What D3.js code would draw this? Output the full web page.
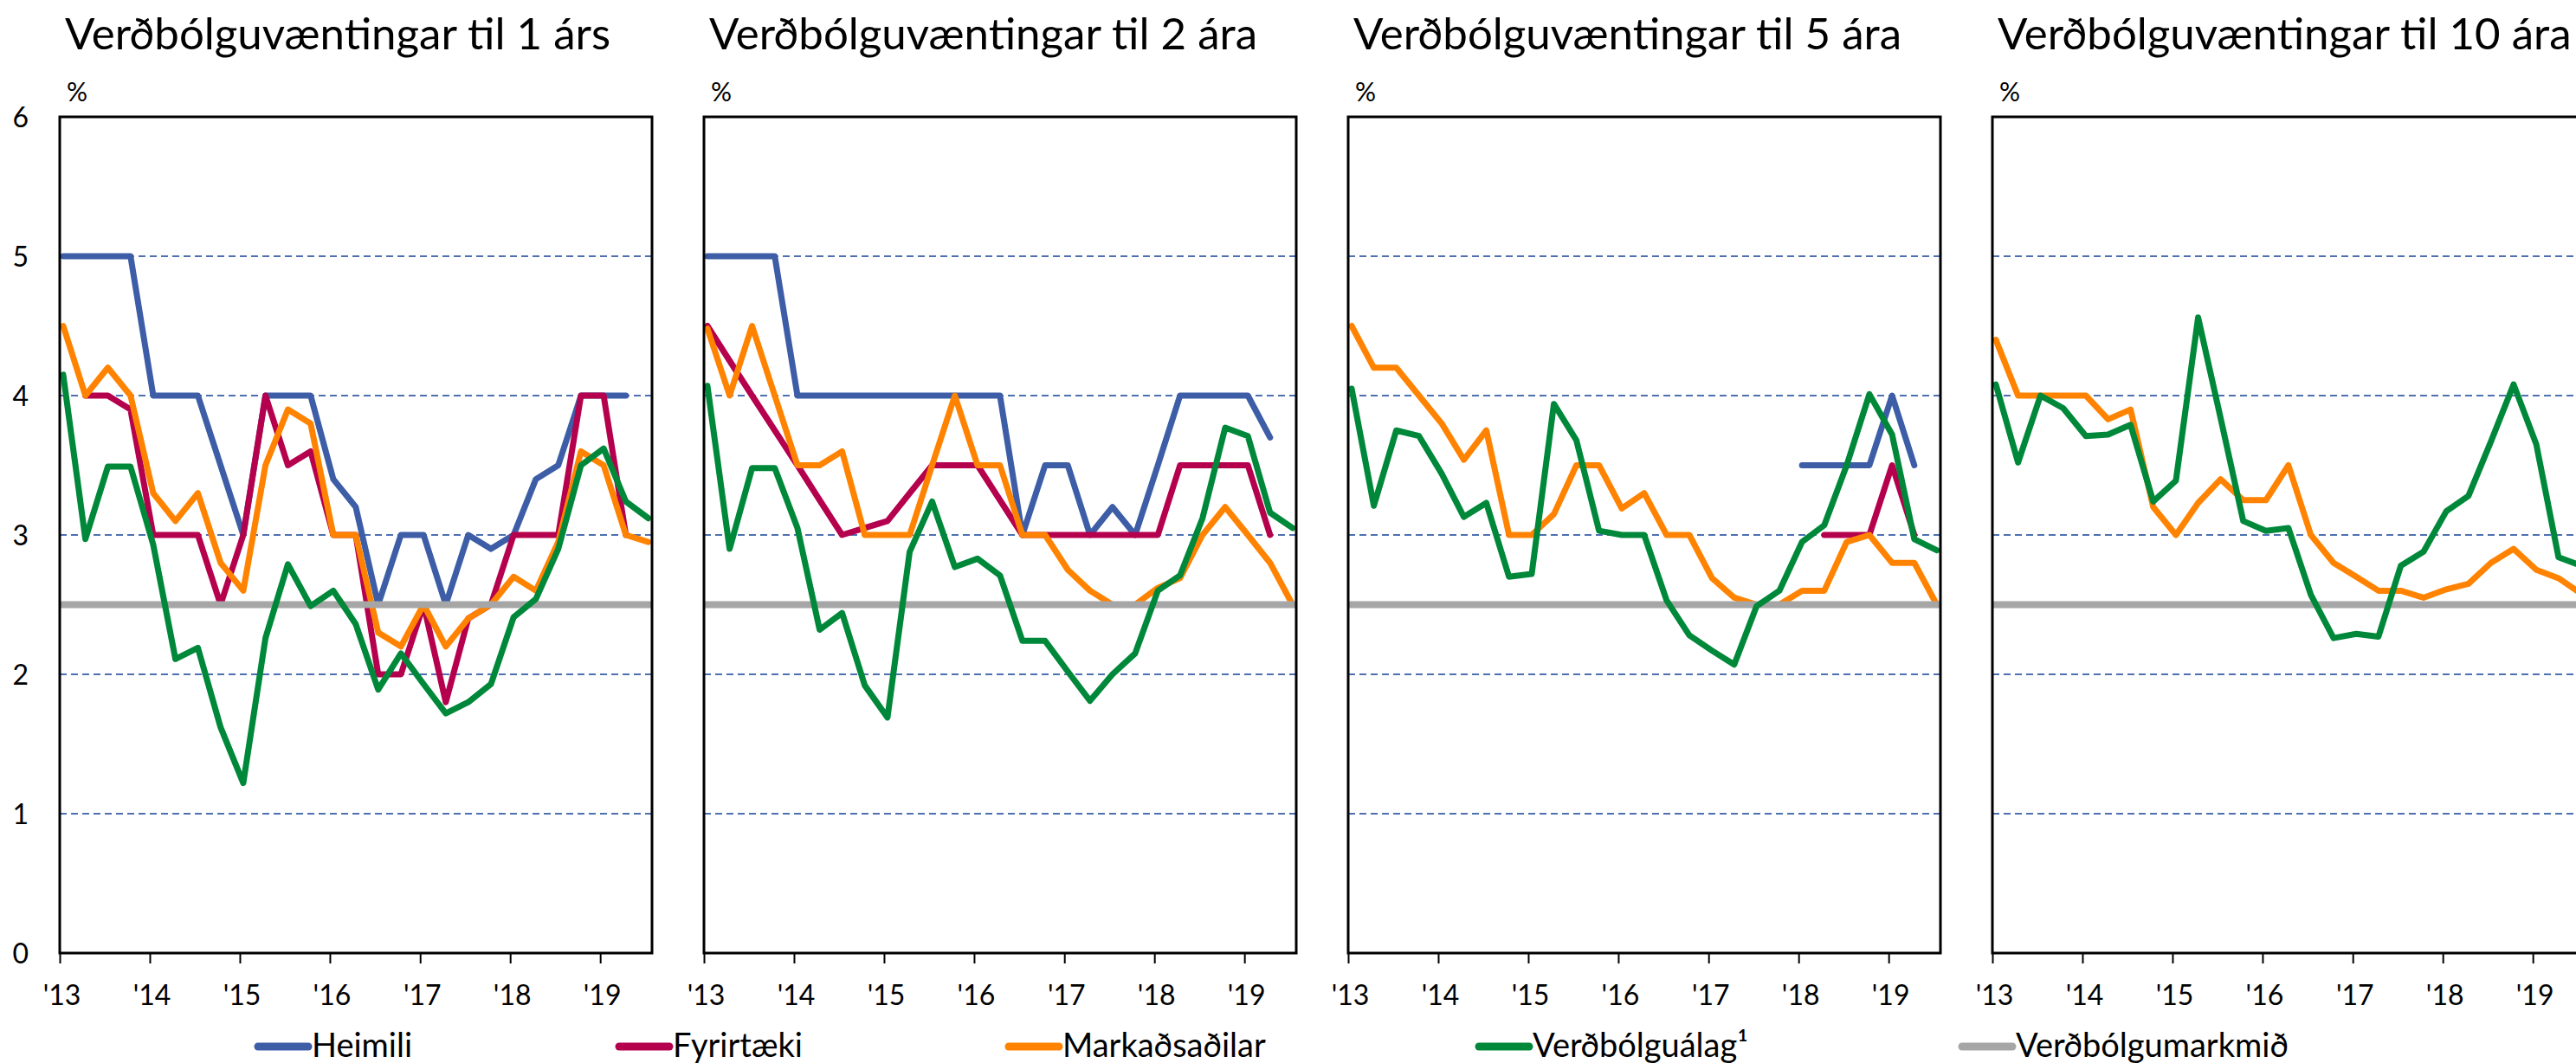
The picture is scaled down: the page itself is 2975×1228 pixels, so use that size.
<!DOCTYPE html>
<html>
<head>
<meta charset="utf-8">
<script src="https://cdn.jsdelivr.net/npm/d3@7"></script>
<style>
body { margin: 0; background: #fff; }
text { font-family: Lato, "Noto Sans", sans-serif; fill: #000; }
</style>
</head>
<body>
<svg width="2975" height="1228"></svg>
<script>
// ársfjórðungar (gildi dagsett um miðjan fyrsta mánuð)
var quarters = ["2013Q1","2013Q2","2013Q3","2013Q4","2014Q1","2014Q2","2014Q3","2014Q4",
    "2015Q1","2015Q2","2015Q3","2015Q4","2016Q1","2016Q2","2016Q3","2016Q4",
    "2017Q1","2017Q2","2017Q3","2017Q4","2018Q1","2018Q2","2018Q3","2018Q4",
    "2019Q1","2019Q2","2019Q3"];
var years = [2013, 2014, 2015, 2016, 2017, 2018, 2019];
var yearLabels = ["'13", "'14", "'15", "'16", "'17", "'18", "'19"];
var yTicks = [0, 1, 2, 3, 4, 5, 6];
var gridValues = [1, 2, 3, 4, 5];

var titles = ["Verðbólguvæntingar til 1 árs", "Verðbólguvæntingar til 2 ára",
    "Verðbólguvæntingar til 5 ára", "Verðbólguvæntingar til 10 ára"];
var legendLabels = ["Heimili", "Fyrirtæki", "Markaðsaðilar", "Verðbólguálag¹", "Verðbólgumarkmið"];

// 1 árs
var heimili1 = [5,5,5,5,4,4,4,3.5,3,4,4,4,3.4,3.2,2.5,3,3,2.5,3,2.9,3,3.4,3.5,4,4,4,null];
var fyrirtaeki1 = [null,4,4,3.9,3,3,3,2.5,3,4,3.5,3.6,3,3,2,2,2.5,1.8,2.4,2.5,3,3,3,4,4,3,null];
var markad1 = [4.5,4,4.2,4,3.3,3.1,3.3,2.8,2.6,3.5,3.9,3.8,3,3,2.3,2.2,2.5,2.2,2.4,2.5,2.7,2.6,2.95,3.6,3.5,3,2.95];
var alag1 = [4.15,2.97,3.49,3.49,2.93,2.11,2.19,1.62,1.22,2.26,2.79,2.49,2.6,2.36,1.89,2.15,1.93,1.72,1.8,1.93,2.41,2.54,2.9,3.5,3.62,3.24,3.12];
// 2 ára
var heimili2 = [5,5,5,5,4,4,4,4,4,4,4,4,4,4,3,3.5,3.5,3,3.2,3,3.5,4,4,4,4,3.7,null];
var fyrirtaeki2 = [4.5,4.25,4,3.75,3.5,3.25,3,3.05,3.1,3.3,3.5,3.5,3.5,3.25,3,3,3,3,3,3,3,3.5,3.5,3.5,3.5,3,null];
var markad2 = [4.48,4,4.5,4,3.5,3.5,3.6,3,3,3,3.5,4,3.5,3.5,3,3,2.75,2.6,2.5,2.5,2.62,2.69,3,3.2,3,2.8,2.5];
var alag2 = [4.07,2.9,3.48,3.48,3.05,2.32,2.44,1.92,1.69,2.88,3.24,2.77,2.83,2.71,2.24,2.24,2.02,1.81,2,2.15,2.6,2.71,3.12,3.77,3.71,3.16,3.05];
// 5 ára
var heimili3 = [null,null,null,null,null,null,null,null,null,null,null,null,null,null,null,null,null,null,null,null,3.5,3.5,3.5,3.5,4,3.5,null];
var fyrirtaeki3 = [null,null,null,null,null,null,null,null,null,null,null,null,null,null,null,null,null,null,null,null,null,3,3,3,3.5,3,null];
var markad3 = [4.5,4.2,4.2,4,3.8,3.54,3.75,3,3,3.15,3.5,3.5,3.19,3.3,3,3,2.69,2.55,2.5,2.5,2.6,2.6,2.95,3,2.8,2.8,2.5];
var alag3 = [4.05,3.21,3.75,3.71,3.44,3.13,3.23,2.7,2.72,3.94,3.68,3.03,3,3,2.53,2.28,2.17,2.07,2.49,2.6,2.95,3.07,3.5,4.01,3.72,2.97,2.89];
// 10 ára
var markad4 = [4.4,4,4,4,4,3.83,3.9,3.2,3,3.23,3.4,3.25,3.25,3.5,3,2.8,2.7,2.6,2.6,2.55,2.61,2.65,2.8,2.9,2.75,2.69,2.58];
var alag4 = [4.08,3.52,4,3.91,3.71,3.72,3.79,3.24,3.39,4.56,3.84,3.1,3.03,3.05,2.57,2.26,2.29,2.27,2.78,2.88,3.17,3.28,3.67,4.08,3.65,2.84,2.78];

var markmid = 2.5;

var colors = { heimili: "#3d5da7", fyrirtaeki: "#b5004d", markad: "#ff8300", markmid: "#a6a6a6", alag: "#00883a" };

var panels = [
    { title: titles[0], heimili: heimili1, fyrirtaeki: fyrirtaeki1, markad: markad1, alag: alag1 },
    { title: titles[1], heimili: heimili2, fyrirtaeki: fyrirtaeki2, markad: markad2, alag: alag2 },
    { title: titles[2], heimili: heimili3, fyrirtaeki: fyrirtaeki3, markad: markad3, alag: alag3 },
    { title: titles[3], heimili: null, fyrirtaeki: null, markad: markad4, alag: alag4 }
];

var dates = quarters.map(function (q) {
    return new Date(+q.slice(0, 4), (+q.slice(5) - 1) * 3, 15);
});

var svg = d3.select("svg");
var plotW = 684, plotH = 966, plotTop = 135, plotLeft = 69, panelStep = 744;

var x = d3.scaleTime()
    .domain([new Date(2013, 0, 1), new Date(2019, 6, 30)])
    .range([0, plotW]);
var y = d3.scaleLinear()
    .domain([0, 6])
    .range([plotH, 0]);

var line = d3.line()
    .defined(function (d) { return d != null; })
    .x(function (d, i) { return x(dates[i]); })
    .y(function (d) { return y(d); });

panels.forEach(function (p, k) {
    var g = svg.append("g").attr("transform", "translate(" + (plotLeft + panelStep * k) + "," + plotTop + ")");

    // fyrirsögn og %
    g.append("text")
        .attr("x", 6)
        .attr("y", 57 - plotTop)
        .attr("font-size", 51)
        .text(p.title);
    g.append("text")
        .attr("x", 8)
        .attr("y", 117 - plotTop)
        .attr("font-size", 30)
        .text("%");

    // láréttar hjálparlínur
    g.selectAll(".grid")
        .data(gridValues)
        .enter().append("line")
        .attr("class", "grid")
        .attr("x1", 0).attr("x2", plotW)
        .attr("y1", function (d) { return y(d); })
        .attr("y2", function (d) { return y(d); })
        .attr("stroke", "#4e70b0")
        .attr("stroke-width", 2)
        .attr("stroke-dasharray", "8,5");

    // x ás
    var xAxis = d3.axisBottom(x)
        .tickValues(years.map(function (yr) { return new Date(yr, 0, 1); }))
        .tickSize(12)
        .tickFormat(function (d, i) { return yearLabels[i]; });
    var ax = g.append("g")
        .attr("transform", "translate(0," + plotH + ")")
        .call(xAxis);
    ax.select(".domain").remove();
    ax.selectAll(".tick line").attr("stroke", "#000").attr("stroke-width", 2);
    ax.selectAll(".tick text")
        .attr("y", 60)
        .attr("dy", 0)
        .attr("dx", 2)
        .attr("font-size", 32)
        .attr("font-family", null);

    if (k === 0) {
        var yAxis = d3.axisLeft(y)
            .tickValues(yTicks)
            .tickFormat(d3.format("d"))
            .tickSize(0)
            .tickPadding(36);
        var ay = g.append("g").call(yAxis);
        ay.select(".domain").remove();
        ay.selectAll(".tick text")
            .attr("font-size", 32)
            .attr("font-family", null)
            .attr("dy", "0.36em");
    }

    // raðir
    var order = ["heimili", "fyrirtaeki", "markad", "markmid", "alag"];
    order.forEach(function (key) {
        if (key === "markmid") {
            g.append("line")
                .attr("x1", 0).attr("x2", plotW)
                .attr("y1", y(markmid)).attr("y2", y(markmid))
                .attr("stroke", colors.markmid)
                .attr("stroke-width", 8);
            return;
        }
        if (!p[key]) return;
        g.append("path")
            .datum(p[key])
            .attr("d", line)
            .attr("fill", "none")
            .attr("stroke", colors[key])
            .attr("stroke-width", 7)
            .attr("stroke-linejoin", "round")
            .attr("stroke-linecap", "round");
    });

    // rammi
    g.append("rect")
        .attr("width", plotW)
        .attr("height", plotH)
        .attr("fill", "none")
        .attr("stroke", "#000")
        .attr("stroke-width", 3);
});

// skýringar
var legendX = [294, 711, 1161, 1704, 2262];
var legendKeys = ["heimili", "fyrirtaeki", "markad", "alag", "markmid"];
var leg = svg.append("g");
var item = leg.selectAll(".item")
    .data(legendLabels)
    .enter().append("g")
    .attr("class", "item")
    .attr("transform", function (d, i) { return "translate(" + legendX[i] + ",1209)"; });
item.append("line")
    .attr("x1", 4).attr("x2", 62)
    .attr("stroke", function (d, i) { return colors[legendKeys[i]]; })
    .attr("stroke-width", 9)
    .attr("stroke-linecap", "round");
item.append("text")
    .attr("x", 66)
    .attr("y", 12)
    .attr("font-size", 38)
    .text(function (d) { return d; });
</script>
</body>
</html>
